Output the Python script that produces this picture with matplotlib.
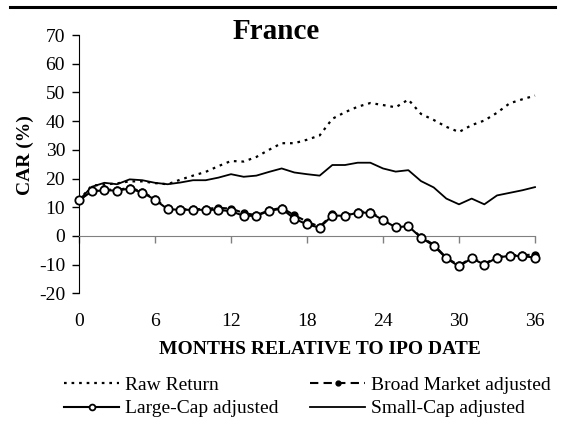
import numpy as np
from matplotlib import pyplot as plt
from matplotlib.lines import Line2D

plt.rcParams['font.family'] = ['Liberation Serif', 'DejaVu Serif']
plt.rcParams['axes.unicode_minus'] = False

months = np.arange(0, 37)
xticks = [0, 6, 12, 18, 24, 30, 36]
yticks = [-20, -10, 0, 10, 20, 30, 40, 50, 60, 70]

# CAR values (%)
raw = [12.4, 17.5, 17.9, 18.3, 19.0, 19.0, 18.4, 18.0, 19.6, 21.0, 22.3, 24.3, 26.1,
       25.9, 27.5, 30.0, 32.3, 32.3, 33.5, 35.0, 40.8, 43.1, 45.0, 46.3, 45.6, 44.8,
       47.5, 42.5, 40.4, 38.0, 36.2, 38.6, 40.2, 42.9, 46.2, 47.6, 48.9]
broad = [12.4, 15.8, 16.2, 16.0, 16.8, 15.4, 12.8, 9.6, 9.3, 9.3, 9.4, 9.8, 9.5,
         8.0, 7.2, 8.9, 9.8, 7.2, 5.0, 3.2, 7.5, 7.2, 8.4, 8.4, 5.7, 3.2, 3.6,
         -0.4, -3.0, -7.6, -10.3, -7.6, -9.7, -7.4, -6.7, -6.7, -6.5]
large = [12.4, 15.5, 15.9, 15.8, 16.5, 15.1, 12.6, 9.3, 9.1, 9.1, 9.1, 9.1, 8.6,
         7.0, 7.0, 8.7, 9.5, 6.0, 4.0, 2.9, 7.1, 7.0, 8.1, 8.1, 5.5, 3.0, 3.4,
         -0.6, -3.4, -7.8, -10.6, -7.8, -10.0, -7.6, -6.9, -7.0, -7.6]
small = [12.4, 17.1, 18.5, 18.0, 19.7, 19.4, 18.5, 18.0, 18.6, 19.4, 19.4, 20.3, 21.5,
         20.6, 21.0, 22.3, 23.5, 22.1, 21.5, 21.0, 24.7, 24.7, 25.5, 25.5, 23.5, 22.4,
         22.9, 19.1, 16.9, 13.0, 11.0, 13.0, 11.0, 14.1, 15.0, 15.9, 17.0]

fig = plt.figure(figsize=(5.65, 4.21), dpi=100)
ax = fig.add_axes([79/565, 1-293.3/421, 456/565, 258.3/421])

ax.plot(months, raw, color='black', lw=1.6, ls=(0, (1.2, 2.2)), label='Raw Return',
        zorder=3, clip_on=False)
ax.plot(months, broad, color='black', lw=1.5, ls=(0, (4, 2.5)), marker='o', ms=5,
        mfc='black', mec='black', label='Broad Market adjusted', zorder=4, clip_on=False)
ax.plot(months, large, color='black', lw=1.5, marker='o', ms=6, mfc='white',
        mec='black', mew=1.3, label='Large-Cap adjusted', zorder=5, clip_on=False)
ax.plot(months, small, color='black', lw=1.3, label='Small-Cap adjusted', zorder=3,
        clip_on=False)

ax.set_xlim(0, 36)
ax.set_ylim(-20, 70)
ax.set_yticks(yticks)
ax.set_xticks(xticks)
ax.tick_params(axis='y', direction='out', length=5, width=1, labelsize=14, pad=5)
ax.tick_params(axis='x', direction='out', length=5, width=1, color='#808080', labelbottom=False)
ax.spines['bottom'].set_position(('data', 0))
ax.spines['bottom'].set_color('#808080')
ax.spines['top'].set_visible(False)
ax.spines['right'].set_visible(False)

sec = ax.secondary_xaxis(0)
sec.set_xticks(xticks)
sec.tick_params(length=0, labelsize=14, pad=14)
sec.spines['bottom'].set_visible(False)

fig.text(276/565, 1-39/421, 'France', ha='center', va='baseline', fontsize=21, fontweight='bold')
fig.text(25/565, 1-155/421, 'CAR (%)', rotation=90, ha='center', va='center', fontsize=14, fontweight='bold')
fig.text(320/565, 1-350/421, 'MONTHS RELATIVE TO IPO DATE', ha='center', va='center', fontsize=14, fontweight='bold')

fig.add_artist(Line2D([10/565, 555/565], [1-7/421, 1-7/421], color='black', lw=2.2))

h, l = ax.get_legend_handles_labels()
order = [0, 2, 1, 3]
fig.legend([h[i] for i in order], [l[i] for i in order], ncol=2, frameon=False,
           loc='upper left', bbox_to_anchor=(64/565, 1-376/421), borderpad=0,
           borderaxespad=0, handlelength=2.85, handletextpad=0.3, columnspacing=1.6,
           labelspacing=0.32, fontsize=14, markerscale=0.7)

fig.savefig('out.png', dpi=100)
